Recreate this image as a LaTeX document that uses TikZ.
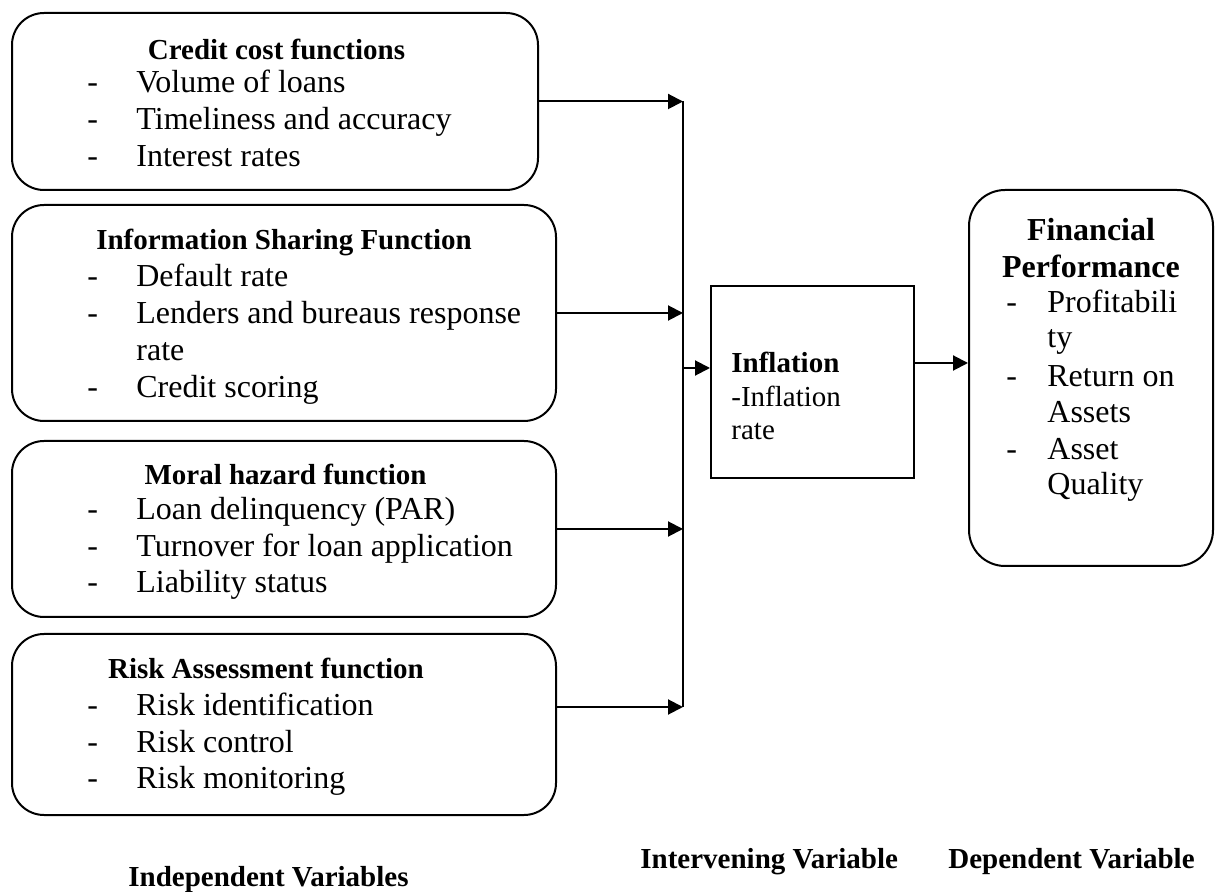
\documentclass[tikz,border=0pt]{standalone}
\usepackage{fontspec}
\setmainfont{Liberation Serif}
\usetikzlibrary{arrows.meta}
\newcommand{\itm}[1]{\makebox[24.5pt][l]{-}#1}
\newcommand{\cnt}[1]{\makebox[24.5pt]{}#1}
\newcommand{\fitm}[1]{\makebox[20.5pt][l]{-}#1}
\newcommand{\fcnt}[1]{\makebox[20.5pt]{}#1}

\begin{document}
\begin{tikzpicture}
                \tikzset{x=0.5pt, y=-0.5pt}
                \tikzstyle{box}=[rectangle, draw, line width=1pt, rounded corners=16pt, inner sep=0pt]
                \tikzstyle{sq}=[rectangle, draw, line width=1pt, inner sep=0pt]
                \tikzstyle{txt}=[anchor=base west, inner sep=0pt, font=\fontsize{16}{18}\selectfont]
                \tikzstyle{head}=[anchor=base, inner sep=0pt, font=\bfseries\fontsize{14.5}{18}\selectfont]
                \tikzstyle{lbl}=[anchor=base west, inner sep=0pt, font=\bfseries\fontsize{14.5}{18}\selectfont]
                \tikzstyle{arr}=[-{Triangle[length=7.5pt, width=7.5pt]}, line width=1pt]

                \useasboundingbox (0,0) rectangle (1221,892);

                % independent variables
                \draw (275.0, 101.5)  node[box, minimum width=263pt, minimum height=88.5pt] (ccf) {};
                \draw (284.0, 313.0)  node[box, minimum width=272pt, minimum height=108pt]  (isf) {};
                \draw (284.0, 529.0)  node[box, minimum width=272pt, minimum height=88pt]   (mhf) {};
                \draw (284.0, 724.5)  node[box, minimum width=272pt, minimum height=90.5pt] (raf) {};

                \draw (276.5,  60.0)  node[head]  (ccfh)  {Credit cost functions};
                \draw (87.0,   93.0)  node[txt]   (ccf1)  {\itm{Volume of loans}};
                \draw (87.0,  130.0)  node[txt]   (ccf2)  {\itm{Timeliness and accuracy}};
                \draw (87.0,  167.0)  node[txt]   (ccf3)  {\itm{Interest rates}};

                \draw (284.0, 250.0)  node[head]  (isfh)  {Information Sharing Function};
                \draw (87.0,  287.0)  node[txt]   (isf1)  {\itm{Default rate}};
                \draw (87.0,  324.0)  node[txt]   (isf2)  {\itm{Lenders and bureaus response}};
                \draw (87.0,  361.0)  node[txt]   (isf2b) {\cnt{rate}};
                \draw (87.0,  398.0)  node[txt]   (isf3)  {\itm{Credit scoring}};

                \draw (285.5, 485.0)  node[head]  (mhfh)  {Moral hazard function};
                \draw (87.0,  520.0)  node[txt]   (mhf1)  {\itm{Loan delinquency (PAR)}};
                \draw (87.0,  557.0)  node[txt]   (mhf2)  {\itm{Turnover for loan application}};
                \draw (87.0,  593.0)  node[txt]   (mhf3)  {\itm{Liability status}};

                \draw (266.0, 679.0)  node[head]  (rafh)  {Risk Assessment function};
                \draw (87.0,  715.0)  node[txt]   (raf1)  {\itm{Risk identification}};
                \draw (87.0,  752.0)  node[txt]   (raf2)  {\itm{Risk control}};
                \draw (87.0,  788.0)  node[txt]   (raf3)  {\itm{Risk monitoring}};

                % intervening variable
                \draw (812.5, 382.0)  node[sq, minimum width=101.5pt, minimum height=96pt] (infl) {};
                \draw (731.0, 373.0)  node[lbl]   (inflh) {Inflation};
                \draw (731.0, 407.0)  node[txt, font=\fontsize{14.5}{18}\selectfont] (infl1) {-Inflation};
                \draw (731.0, 440.0)  node[txt, font=\fontsize{14.5}{18}\selectfont] (infl2) {rate};

                % dependent variable
                \draw (1091.0, 378.0) node[box, rounded corners=18pt, minimum width=122pt, minimum height=188pt] (fin) {};
                \draw (1091.0, 241.0) node[head, font=\bfseries\fontsize{16}{18}\selectfont] (finh)  {Financial};
                \draw (1091.0, 278.0) node[head, font=\bfseries\fontsize{16}{18}\selectfont] (finh2) {Performance};
                \draw (1006.0, 313.0) node[txt]   (fin1)  {\fitm{Profitabili}};
                \draw (1006.0, 348.0) node[txt]   (fin1b) {\fcnt{ty}};
                \draw (1006.0, 387.0) node[txt]   (fin2)  {\fitm{Return on}};
                \draw (1006.0, 423.0) node[txt]   (fin2b) {\fcnt{Assets}};
                \draw (1006.0, 460.0) node[txt]   (fin3)  {\fitm{Asset}};
                \draw (1006.0, 495.0) node[txt]   (fin3b) {\fcnt{Quality}};

                % captions
                \draw (128.0, 886.0)  node[lbl]   (lind)  {Independent Variables};
                \draw (640.0, 868.0)  node[lbl]   (lint)  {Intervening Variable};
                \draw (948.0, 868.0)  node[lbl]   (ldep)  {Dependent Variable};

                % collector line
                \coordinate (top) at (683.0, 101.5);
                \coordinate (bot) at (683.0, 707.0);
                \coordinate (mid) at (683.0, 368.0);
                \coordinate (out) at (914.0, 363.0);
                \draw [line width=1pt] (top) -- (bot);

                \draw [arr]         (ccf.east) -- (ccf.east -| top);
                \draw [arr]         (isf.east) -- (isf.east -| top);
                \draw [arr]         (mhf.east) -- (mhf.east -| top);
                \draw [arr]         (raf.east |- bot) -- (bot);
                \draw [arr]         (mid) -- (mid -| infl.west);
                \draw [arr]         (infl.east |- out) -- (out -| fin.west);
            \end{tikzpicture}
\end{document}
